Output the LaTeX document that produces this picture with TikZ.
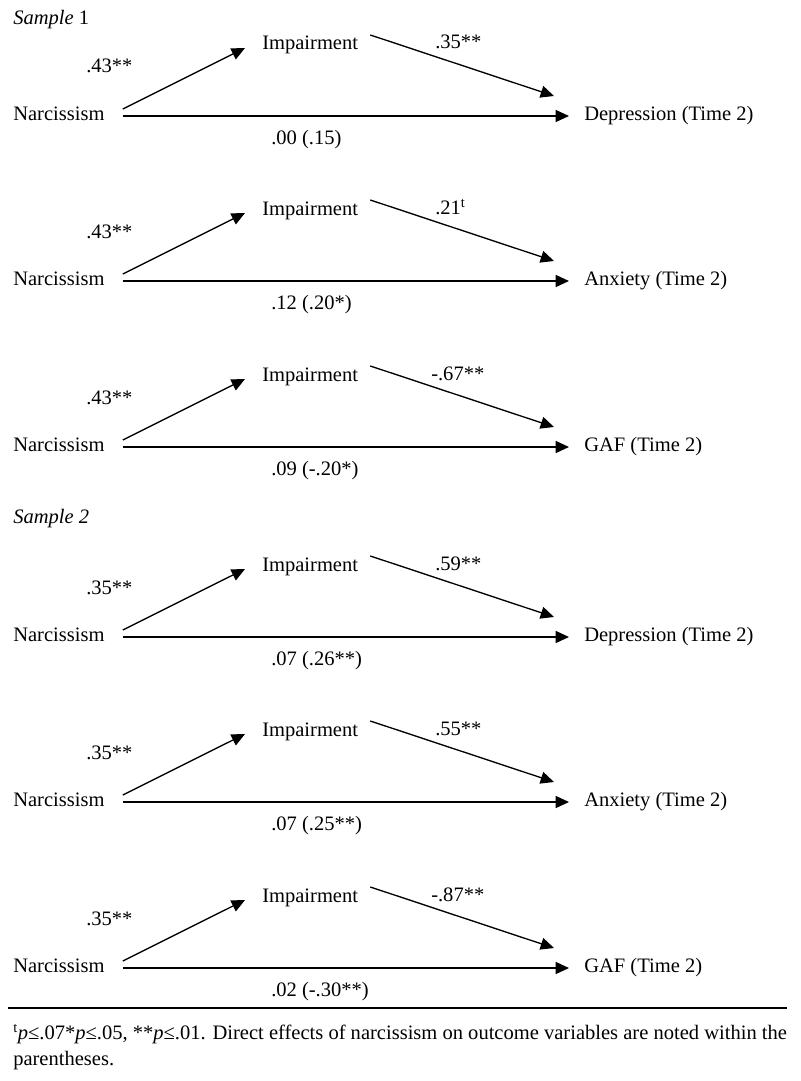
\documentclass[tikz,border=0pt]{standalone}
\usepackage{fontspec}
\setmainfont{Liberation Serif}
\usetikzlibrary{arrows.meta}
\begin{document}
\begin{tikzpicture}[x=0.75pt,y=-0.75pt,
  lbl/.style={inner sep=0pt, anchor=base west, font=\fontsize{15.4}{19.5}\selectfont},
  conn/.style={line width=1pt, -{Triangle[length=10pt,width=9pt]}}]
\useasboundingbox[fill=white] (0,0) rectangle (800,1081);
\node[lbl] (s1) at (13,25) {\textit{Sample} 1};
\node[lbl] (s2) at (13,523) {\textit{Sample 2}};
\foreach \i/\B/\a/\bx/\b/\out/\c in {
  1/120/{.43**}/435/{.35**}/{Depression (Time 2)}/{.00 (.15)},
  2/285/{.43**}/435/{.21\textsuperscript{t}}/{Anxiety (Time 2)}/{.12 (.20*)},
  3/451/{.43**}/431/{-.67**}/{GAF (Time 2)}/{.09 (-.20*)},
  4/641/{.35**}/435/{.59**}/{Depression (Time 2)}/{.07 (.26**)},
  5/806/{.35**}/435/{.55**}/{Anxiety (Time 2)}/{.07 (.25**)},
  6/972/{.35**}/431/{-.87**}/{GAF (Time 2)}/{.02 (-.30**)}}{
  \node[lbl] (narc\i) at (13,\B) {Narcissism};
  \node[lbl] (imp\i) at (262,\B-70) {Impairment};
  \node[lbl] (a\i) at (86,\B-47) {\a};
  \node[lbl] (out\i) at (584,\B) {\out};
  \node[lbl] (b\i) at (\bx,\B-71) {\b};
  \node[lbl] (c\i) at (271,\B+24) {\c};
  \draw[conn] ([shift={(18,-11)}]narc\i.base east) -- ([shift={(-17,-2)}]imp\i.base west);
  \draw[conn] ([shift={(12,-15)}]imp\i.base east) -- ([shift={(-30,-24)}]out\i.base west);
  \draw[conn] ([shift={(18,-4)}]narc\i.base east) -- ([shift={(-15,-4)}]out\i.base west);
}
\coordinate (r1) at (8,1008);
\coordinate (r2) at (787,1008);
\draw[line width=0.8pt] (r1) -- (r2);
\node[lbl, align=left, anchor=north west] (fn) at (13,1024) {\textsuperscript{t}\textit{p}≤.07*\textit{p}≤.05, **\textit{p}≤.01. Direct effects of narcissism on outcome variables are noted within the\\parentheses.};
\end{tikzpicture}
\end{document}
